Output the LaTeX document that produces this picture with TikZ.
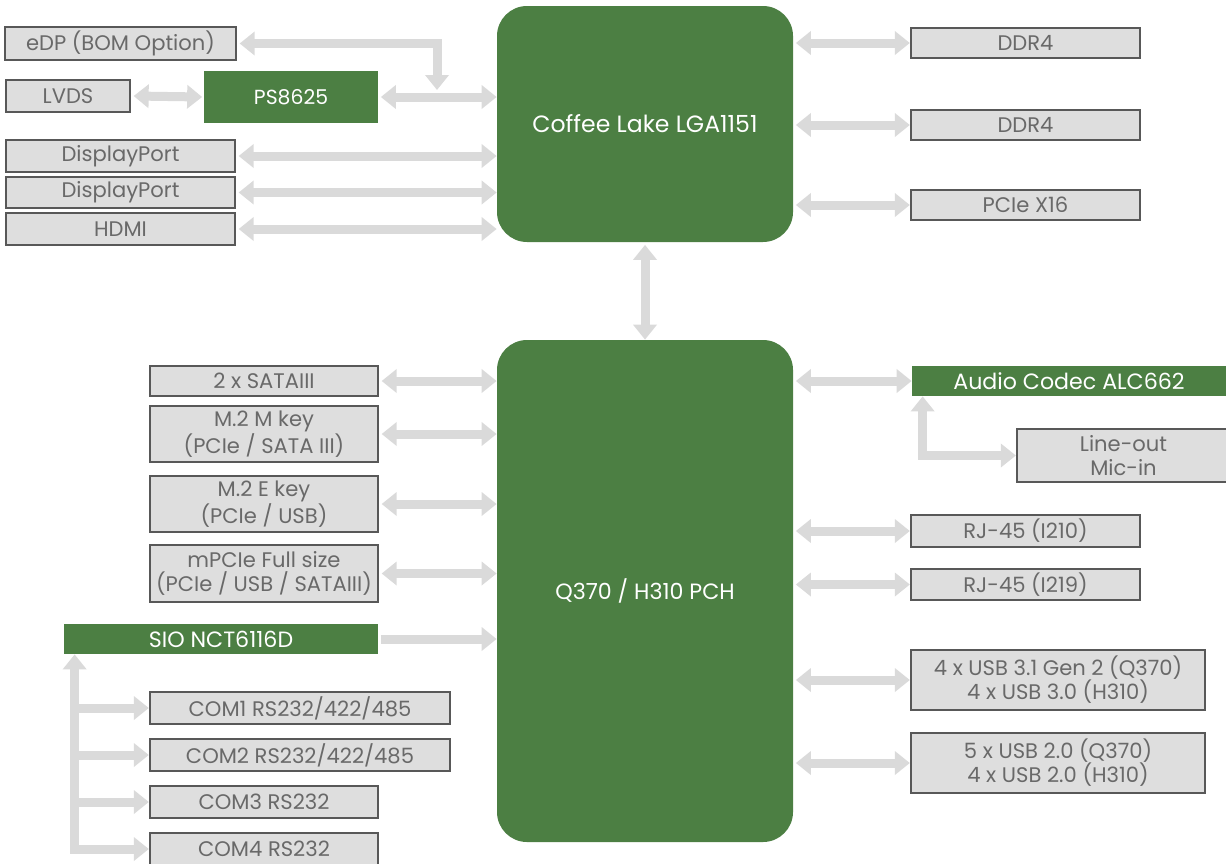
\documentclass[tikz,border=0pt]{standalone}
\usepackage{fontspec}
\setmainfont{Poppins}
\usetikzlibrary{arrows.meta, positioning}
\definecolor{chipgreen}{RGB}{76,127,67}
\definecolor{boxfill}{RGB}{222,222,222}
\definecolor{boxline}{RGB}{88,88,88}
\definecolor{boxtext}{RGB}{105,105,105}
\definecolor{busgray}{RGB}{218,218,218}
\begin{document}
\begin{tikzpicture}[
    font=\fontsize{12pt}{13.6pt}\selectfont,
    port/.style={draw=boxline, line width=1.3pt, fill=boxfill, text=boxtext, align=center, inner sep=0pt},
    chip/.style={fill=chipgreen, text=white, align=center, inner sep=0pt, font=\fontsize{12.6pt}{14pt}\selectfont},
    bigchip/.style={chip, rounded corners=0.6cm, minimum width=5.92cm},
    bus/.style={draw=busgray, line width=0.18cm, {Triangle[width=0.46cm,length=0.3cm]}-{Triangle[width=0.46cm,length=0.3cm]}},
    onebus/.style={draw=busgray, line width=0.18cm, -{Triangle[width=0.46cm,length=0.3cm]}}
]
    \useasboundingbox (0,0) rectangle (24.52,-17.26);

    \node[bigchip, minimum height=4.72cm, font=\fontsize{13.4pt}{15pt}\selectfont] (cpu) at (12.9,-2.48) {Coffee Lake LGA1151};
    \node[bigchip, minimum height=10.04cm]                        (pch)     at (12.9,-11.82)  {Q370 / H310 PCH};

    \node[port, minimum width=4.62cm, minimum height=0.66cm]      (edp)     at (2.41,-0.87)   {eDP (BOM Option)};
    \node[port, minimum width=2.48cm, minimum height=0.64cm]      (lvds)    at (1.36,-1.92)   {LVDS};
    \node[chip, minimum width=3.48cm, minimum height=1.04cm, font=\fontsize{11.6pt}{13pt}\selectfont] (ps) at (5.82,-1.94) {PS8625};
    \node[port, minimum width=4.58cm, minimum height=0.64cm]      (dp1)     at (2.41,-3.12)   {DisplayPort};
    \node[port, minimum width=4.58cm, minimum height=0.62cm]      (dp2)     at (2.41,-3.85)   {DisplayPort};
    \node[port, minimum width=4.58cm, minimum height=0.64cm]      (hdmi)    at (2.41,-4.58)   {HDMI};

    \node[port, minimum width=4.58cm, minimum height=0.6cm]       (ddr1)    at (20.51,-0.86)  {DDR4};
    \node[port, minimum width=4.58cm, minimum height=0.6cm]       (ddr2)    at (20.51,-2.5)   {DDR4};
    \node[port, minimum width=4.58cm, minimum height=0.6cm]       (pcie)    at (20.51,-4.1)   {PCIe X16};

    \node[port, minimum width=4.56cm, minimum height=0.6cm]       (sata)    at (5.28,-7.62)   {2 x SATAIII};
    \node[port, minimum width=4.56cm, minimum height=1.12cm]      (m2m)     at (5.28,-8.68)   {M.2 M key\\(PCIe / SATA III)};
    \node[port, minimum width=4.56cm, minimum height=1.12cm]      (m2e)     at (5.28,-10.08)  {M.2 E key\\(PCIe / USB)};
    \node[port, minimum width=4.56cm, minimum height=1.14cm]      (mpcie)   at (5.28,-11.47)  {mPCIe Full size\\(PCIe / USB / SATAIII)};
    \node[chip, minimum width=6.28cm, minimum height=0.6cm]       (sio)     at (4.42,-12.78)  {SIO NCT6116D};
    \node[port, minimum width=6.0cm, minimum height=0.64cm]       (com1)    at (6.0,-14.16)   {COM1 RS232/422/485};
    \node[port, minimum width=6.0cm, minimum height=0.64cm]       (com2)    at (6.0,-15.1)    {COM2 RS232/422/485};
    \node[port, minimum width=4.56cm, minimum height=0.64cm]      (com3)    at (5.28,-16.04)  {COM3 RS232};
    \node[port, minimum width=4.56cm, minimum height=0.64cm]      (com4)    at (5.28,-16.98)  {COM4 RS232};

    \node[chip, minimum width=6.28cm, minimum height=0.6cm]       (audio)   at (21.38,-7.62)  {Audio Codec ALC662};
    \node[port, minimum width=4.26cm, minimum height=1.06cm]      (lineout) at (22.47,-9.11)  {Line-out\\Mic-in};
    \node[port, minimum width=4.58cm, minimum height=0.64cm]      (rj1)     at (20.51,-10.62) {RJ-45 (I210)};
    \node[port, minimum width=4.58cm, minimum height=0.62cm]      (rj2)     at (20.51,-11.69) {RJ-45 (I219)};
    \node[port, minimum width=5.88cm, minimum height=1.2cm]       (usb3)    at (21.16,-13.6)  {4 x USB 3.1 Gen 2 (Q370)\\4 x USB 3.0 (H310)};
    \node[port, minimum width=5.88cm, minimum height=1.2cm]       (usb2)    at (21.16,-15.26) {5 x USB 2.0 (Q370)\\4 x USB 2.0 (H310)};

    \coordinate (edpjoin) at (8.74,-1.8);
    \coordinate (siotap) at ([xshift=0.22cm]sio.south west);
    \coordinate (audiotap) at ([xshift=0.22cm]audio.south west);

    \draw[bus] ([xshift=0.05cm]edp.east) -| (edpjoin);
    \draw[bus] ([xshift=0.05cm]lvds.east) -- ([xshift=-0.03cm]ps.west);
    \draw[bus] ([xshift=0.05cm]ps.east) -- (ps.east -| cpu.west);
    \foreach \p in {dp1, dp2, hdmi}
        \draw[bus] ([xshift=0.05cm]\p.east) -- (\p.east -| cpu.west);
    \foreach \p in {ddr1, ddr2, pcie}
        \draw[bus] ([xshift=0.05cm]\p.west -| cpu.east) -- (\p.west);
    \draw[bus] ([yshift=-0.05cm]cpu.south) -- (pch.north);

    \foreach \p in {sata, m2m, m2e, mpcie}
        \draw[bus] ([xshift=0.05cm]\p.east) -- (\p.east -| pch.west);
    \draw[onebus] ([xshift=0.05cm]sio.east) -- (sio.east -| pch.west);
    \draw[bus] (siotap) |- (com4.west);
    \foreach \p in {com1, com2, com3}
        \draw[onebus] (siotap |- \p.west) -- (\p.west);

    \foreach \p in {audio, rj1, rj2, usb3, usb2}
        \draw[bus] ([xshift=0.05cm]\p.west -| pch.east) -- (\p.west);
    \draw[bus] (audiotap) |- (lineout.west);
\end{tikzpicture}
\end{document}
